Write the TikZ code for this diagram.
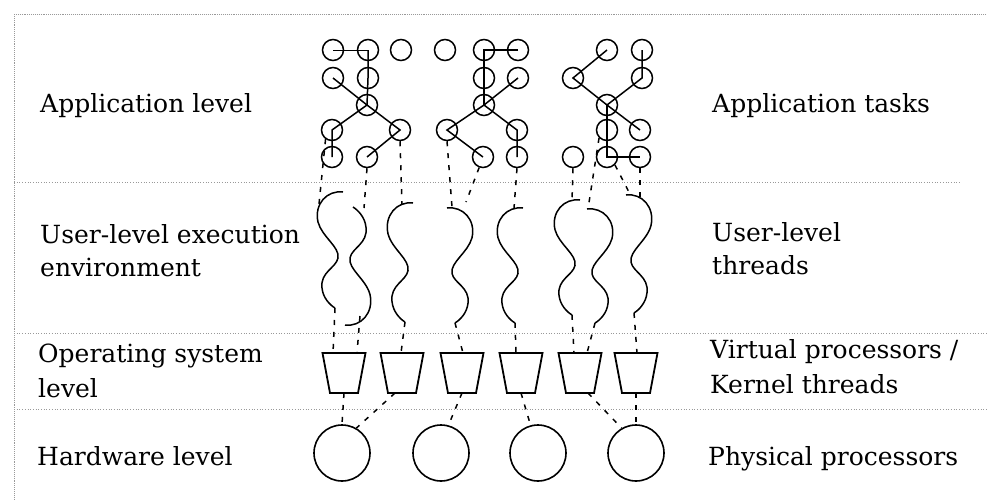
\documentclass[tikz,border=0pt]{standalone}
\usepackage{fontspec}
\setmainfont{DejaVu Serif}
\usetikzlibrary{calc}
\begin{document}
\begin{tikzpicture}[x=1pt,y=-1pt,
  task/.style={circle,draw,line width=1.5pt,minimum size=21pt,inner sep=0pt},
  cpu/.style={circle,draw,line width=1.6pt,minimum size=56pt,inner sep=0pt},
  kt/.pic={\draw[line width=1.8pt,line join=miter] (-21.5,0) -- (21.5,0) -- (14,40) -- (-14,40) -- cycle;
           \coordinate (-north) at (0,0); \coordinate (-south) at (0,40);},
  tedge/.style={line width=1.5pt},
  map/.style={line width=1.5pt,dash pattern=on 5pt off 7pt},
  sep/.style={gray!80,line width=0.7pt,dotted},
  frame/.style={gray!80,line width=0.9pt,densely dotted},
  lbl/.style={anchor=base west,inner sep=0pt,font=\fontsize{25}{33}\selectfont,align=left},
  thr/.pic={\draw[line width=1.5pt] (13,0) coordinate (-top) .. controls (-3,-2) and (-16,12) .. (-12,30) .. controls (-8,45) and (10,55) .. (8,66) .. controls (6,76) and (-10,80) .. (-8,96) .. controls (-7,106) and (0,113) .. (5,116) coordinate (-bot);}
]
\useasboundingbox (0,0) rectangle (987,499);

% frame and separators
\draw[frame] (14,14) -- (987,14);
\draw[frame] (14,14) -- (14,499);
\draw[sep] (14,182) -- (960,182);
\draw[sep] (14,333) -- (987,333);
\draw[sep] (14,409) -- (987,409);

% labels (base anchor = baseline of last line)
\node[lbl] (lApp) at (40,112) {Application level};
\node[lbl] (lUser) at (40,276) {User-level execution\\environment};
\node[lbl,font=\fontsize{25}{35}\selectfont] (lOS) at (38,397) {Operating system\\level};
\node[lbl] (lHw) at (37,465) {Hardware level};
\node[lbl] (rApp) at (712,112) {Application tasks};
\node[lbl] (rUser) at (712,274) {User-level\\threads};
\node[lbl,font=\fontsize{25}{35}\selectfont] (rOS) at (710,393) {Virtual processors /\\Kernel threads};
\node[lbl] (rHw) at (708,465) {Physical processors};

% tasks group 1
\node[task] (g1a) at (333,50) {};
\node[task] (g1b) at (368,50) {};
\node[task] (g1c) at (401,50) {};
\node[task] (g1d) at (333,78) {};
\node[task] (g1e) at (368,78) {};
\node[task] (g1f) at (367,105) {};
\node[task] (g1g) at (332,130) {};
\node[task] (g1h) at (400,130) {};
\node[task] (g1i) at (332,157) {};
\node[task] (g1j) at (367,157) {};
\draw[line width=0.8pt] (g1a.center) -- (g1b.center);
\draw[tedge] (g1b.center) -- (g1e.center) -- (g1f.center);
\draw[tedge] (g1d.center) -- (g1f.center);
\draw[tedge] (g1f.center) -- (g1g.center) -- (g1i.center);
\draw[tedge] (g1f.center) -- (g1h.center) -- (g1j.center);

% tasks group 2
\node[task] (g2a) at (445,50) {};
\node[task] (g2b) at (484,50) {};
\node[task] (g2c) at (518,50) {};
\node[task] (g2d) at (484,78) {};
\node[task] (g2e) at (518,78) {};
\node[task] (g2f) at (484,105) {};
\node[task] (g2g) at (447,130) {};
\node[task] (g2h) at (517,130) {};
\node[task] (g2i) at (483,157) {};
\node[task] (g2j) at (517,157) {};
\draw[tedge] (g2c.center) -- (g2b.center) -- (g2d.center) -- (g2f.center);
\draw[tedge] (g2e.center) -- (g2f.center);
\draw[tedge] (g2f.center) -- (g2g.center) -- (g2i.center);
\draw[tedge] (g2f.center) -- (g2h.center) -- (g2j.center);

% tasks group 3
\node[task] (g3a) at (607,50) {};
\node[task] (g3b) at (642,50) {};
\node[task] (g3c) at (573,78) {};
\node[task] (g3d) at (642,78) {};
\node[task] (g3e) at (607,105) {};
\node[task] (g3f) at (607,130) {};
\node[task] (g3g) at (640,130) {};
\node[task] (g3h) at (573,157) {};
\node[task] (g3i) at (607,157) {};
\node[task] (g3j) at (640,157) {};
\draw[tedge] (g3a.center) -- (g3c.center) -- (g3e.center);
\draw[tedge] (g3b.center) -- (g3d.center) -- (g3e.center);
\draw[tedge] (g3e.center) -- (g3g.center);
\draw[tedge] (g3e.center) -- (g3f.center) -- (g3i.center) -- (g3j.center);

% user-level threads
\pic (t1) at (330,192) {thr};
\pic[rotate=180,yscale=1.017] (t2) at (358,325) {thr};
\pic[yscale=1.026] (t3) at (400,203) {thr};
\pic[xscale=-1,yscale=0.991] (t4) at (460,208) {thr};
\pic[yscale=0.991] (t5) at (510,208) {thr};
\pic[yscale=0.991] (t6) at (567,200) {thr};
\pic[xscale=-1,yscale=0.983] (t7) at (600,209) {thr};
\pic[xscale=-1,yscale=1.017] (t8) at (639,195) {thr};

% kernel threads (virtual processors)
\pic (k1) at (344,353) {kt};
\pic (k2) at (402,353) {kt};
\pic (k3) at (462,353) {kt};
\pic (k4) at (521,353) {kt};
\pic (k5) at (580,353) {kt};
\pic (k6) at (636,353) {kt};

% physical processors
\node[cpu] (p1) at (342,453) {};
\node[cpu] (p2) at (441,453) {};
\node[cpu] (p3) at (538,453) {};
\node[cpu] (p4) at (636,453) {};

% connector end points
\coordinate (u1) at (319,204);
\coordinate (u2) at (364,208);
\coordinate (u3) at (402,205);
\coordinate (u4) at (452,207);
\coordinate (u5) at (466,202);
\coordinate (u6) at (514,208);
\coordinate (u7) at (572,201);
\coordinate (u8) at (588,209);
\coordinate (u9) at (631,196);
\coordinate (u10) at (640,199);
\coordinate (s2) at (360,316);
\coordinate (w1) at (333,353);
\coordinate (w2) at (357,353);
\coordinate (w3) at (401,353);
\coordinate (w4) at (463,353);
\coordinate (w5) at (516,353);
\coordinate (w6) at (574,353);
\coordinate (w7) at (587,353);
\coordinate (w8) at (637,353);
\coordinate (b2) at (395,393);
\coordinate (b5) at (588,393);

% task -> thread
\draw[map] (g1g.235) -- (u1);
\draw[map] (g1j.south) -- (u2);
\draw[map] (g1h.south) -- (u3);
\draw[map] (g2g.south) -- (u4);
\draw[map] (g2i.250) -- (u5);
\draw[map] (g2j.south) -- (u6);
\draw[map] (g3h.south) -- (u7);
\draw[map] (g3f.225) -- (u8);
\draw[map] (g3i.315) -- (u9);
\draw[map] (g3j.south) -- (u10);

% thread -> kernel thread
\draw[map] (t1-bot) -- (w1);
\draw[map] (s2) -- (w2);
\draw[map] (t3-bot) -- (w3);
\draw[map] (t4-bot) -- (w4);
\draw[map] (t5-bot) -- (w5);
\draw[map] (t6-bot) -- (w6);
\draw[map] (t7-bot) -- (w7);
\draw[map] (t8-bot) -- (w8);

% kernel thread -> processor
\draw[map] (k1-south) -- (p1.north);
\draw[map] (b2) -- (p1.60);
\draw[map] (k3-south) -- (p2.75);
\draw[map] (k4-south) -- (p3.105);
\draw[map] (b5) -- (p4.120);
\draw[map] (k6-south) -- (p4.north);
\end{tikzpicture}
\end{document}
